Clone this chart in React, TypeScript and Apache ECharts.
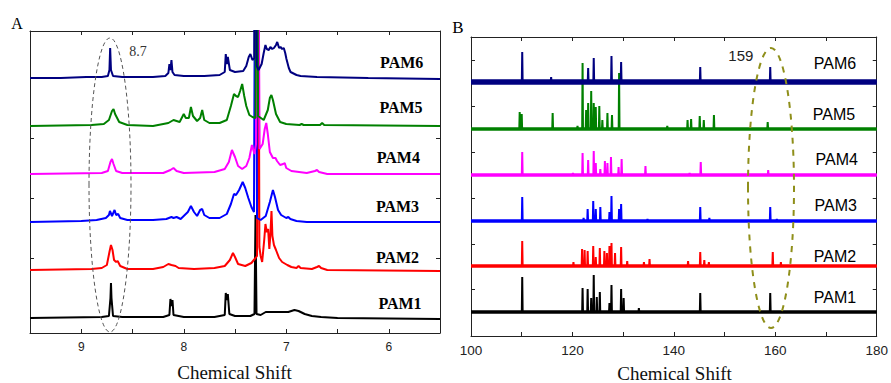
import React, { useEffect, useRef } from 'react';
import * as echarts from 'echarts';

// ---------- shared ----------
const names = ['PAM1', 'PAM2', 'PAM3', 'PAM4', 'PAM5', 'PAM6'];
const colors = ['#000000', '#ff0000', '#0000ff', '#ff00ff', '#008000', '#000080'];

// ---------- panel A : 1H NMR (ppm, intensity a.u.) ----------
const offsetsA = [15, 63, 111, 159, 207, 255];
const yTicksA = [15, 75, 135, 195, 255];
const xTickLabelsA = [9, 8, 7, 6];

const hPAM1: [number, number][] = [
  [9.5, 0], [8.8, 1], [8.73, 2], [8.715, 20], [8.71, 35], [8.705, 20], [8.69, 2], [8.6, 1], [8.2, 1],
  [8.14, 3], [8.13, 19], [8.12, 12], [8.11, 18], [8.1, 3], [8.0, 1], [7.7, 1], [7.6, 3], [7.59, 25],
  [7.58, 18], [7.57, 24], [7.555, 4], [7.5, 2], [7.35, 2], [7.31, 4], [7.30, 103], [7.29, 4], [7.25, 3],
  [7.2, 6], [7.17, 6], [7.1, 6], [7.05, 6], [6.98, 6], [6.92, 8], [6.88, 7], [6.82, 4], [6.75, 2],
  [6.66, 1], [6.5, 0], [5.5, -1],
];
const hPAM2: [number, number][] = [
  [9.5, 0], [8.9, 1], [8.8, 2], [8.75, 5], [8.725, 18], [8.71, 25], [8.695, 20], [8.68, 10], [8.66, 8],
  [8.645, 9], [8.62, 4], [8.55, 1], [8.3, 1], [8.2, 3], [8.15, 6], [8.12, 5], [8.08, 4], [8.05, 2],
  [7.9, 1], [7.7, 2], [7.6, 4], [7.55, 10], [7.52, 17], [7.5, 13], [7.47, 6], [7.4, 4], [7.34, 7],
  [7.3, 12], [7.285, 14], [7.272, 400], [7.262, 23], [7.25, 14], [7.235, 8], [7.215, 30], [7.203, 46],
  [7.19, 38], [7.177, 41], [7.165, 21], [7.155, 35], [7.144, 59], [7.135, 34], [7.12, 25], [7.1, 20],
  [7.07, 12], [7.04, 8], [6.99, 5], [6.95, 3], [6.9, 2], [6.88, 4], [6.86, 2], [6.75, 1], [6.7, 3],
  [6.68, 4], [6.66, 2], [6.6, 0], [5.5, -1],
];
const hPAM3: [number, number][] = [
  [9.5, 0], [9.0, 1], [8.85, 2], [8.76, 4], [8.73, 7], [8.72, 11], [8.70, 6], [8.675, 12], [8.66, 7],
  [8.64, 8], [8.62, 4], [8.55, 2], [8.3, 2], [8.17, 3], [8.12, 5], [8.1, 4], [8.07, 5], [8.03, 3],
  [8.0, 6], [7.96, 10], [7.93, 16], [7.9, 10], [7.87, 6], [7.84, 12], [7.82, 13], [7.8, 7], [7.75, 4],
  [7.65, 4], [7.58, 8], [7.54, 18], [7.51, 28], [7.49, 27], [7.46, 32], [7.425, 40], [7.4, 34],
  [7.37, 24], [7.34, 15], [7.315, 10], [7.30, 400], [7.285, 4], [7.25, 2], [7.2, 6], [7.16, 20],
  [7.13, 32], [7.11, 25], [7.08, 12], [7.05, 7], [7.0, 4], [6.98, 5], [6.96, 3], [6.9, 1], [6.8, 0],
  [5.5, 0],
];
const hPAM4: [number, number][] = [
  [9.5, 0], [8.8, 1], [8.74, 3], [8.715, 12], [8.70, 15], [8.685, 10], [8.66, 3], [8.6, 1], [8.2, 1],
  [8.13, 4], [8.1, 6], [8.07, 3], [8.0, 1], [7.7, 2], [7.6, 5], [7.56, 12], [7.53, 24], [7.5, 17],
  [7.47, 8], [7.43, 5], [7.39, 8], [7.36, 16], [7.335, 29], [7.31, 20], [7.295, 30], [7.28, 400],
  [7.26, 25], [7.23, 30], [7.21, 45], [7.195, 51], [7.18, 40], [7.16, 22], [7.13, 16], [7.105, 16],
  [7.09, 13], [7.06, 9], [7.03, 10], [7.015, 11], [7.0, 6], [6.95, 3], [6.8, 1], [6.72, 3], [6.70, 4],
  [6.68, 2], [6.6, 0], [5.5, 0],
];
const hPAM5: [number, number][] = [
  [9.5, 0], [8.9, 1], [8.78, 2], [8.73, 6], [8.70, 15], [8.685, 17], [8.67, 12], [8.63, 4], [8.55, 1],
  [8.3, 0], [8.15, 3], [8.1, 6], [8.07, 5], [8.04, 4], [8.0, 12], [7.98, 8], [7.95, 8], [7.93, 19],
  [7.91, 10], [7.87, 5], [7.84, 8], [7.82, 16], [7.8, 6], [7.75, 3], [7.65, 3], [7.58, 6], [7.54, 20],
  [7.51, 32], [7.49, 30], [7.47, 29], [7.45, 35], [7.43, 42], [7.41, 30], [7.39, 20], [7.36, 11],
  [7.33, 9], [7.30, 8], [7.287, 400], [7.275, 10], [7.22, 6], [7.18, 16], [7.16, 28], [7.145, 31],
  [7.13, 26], [7.1, 12], [7.06, 4], [7.0, 2], [6.87, 1], [6.85, 2], [6.83, 1], [6.67, 1], [6.65, 3],
  [6.63, 1], [5.5, 0],
];
const hPAM6: [number, number][] = [
  [9.5, 0], [9.2, 0], [8.95, 1], [8.8, 1], [8.74, 2], [8.725, 8], [8.718, 30], [8.71, 8], [8.69, 2],
  [8.6, 1], [8.3, 1], [8.18, 2], [8.15, 5], [8.14, 14], [8.13, 8], [8.12, 18], [8.11, 6], [8.09, 3],
  [8.0, 2], [7.8, 2], [7.65, 3], [7.6, 6], [7.59, 24], [7.58, 14], [7.57, 21], [7.55, 8], [7.5, 6],
  [7.42, 7], [7.39, 12], [7.366, 21], [7.35, 24], [7.33, 18], [7.312, 20], [7.30, 400], [7.288, 12],
  [7.27, 8], [7.24, 14], [7.22, 25], [7.203, 33], [7.19, 29], [7.17, 28], [7.155, 31], [7.137, 29],
  [7.12, 30], [7.1, 33], [7.088, 36], [7.07, 30], [7.056, 31], [7.04, 29], [7.024, 30], [7.01, 25],
  [6.998, 19], [6.975, 10], [6.958, 6], [6.9, 3], [6.86, 2], [6.7, 1], [6.2, 0], [5.5, -1],
];

// ---------- panel B : 13C NMR peak lists (ppm, height a.u.) ----------
const offsetsB = [24, 70, 115, 161, 207, 254];
const yTicksB = [47, 92, 138, 184, 230, 276];

const cPAM1: [number, number][] = [
  [110.1, 35], [122.0, 24], [123.0, 23], [123.7, 14], [124.2, 37], [124.8, 15], [125.4, 20],
  [127.3, 9], [127.7, 27], [129.6, 23], [130.1, 14], [133.1, 4], [145.2, 19], [159.0, 19],
];
const cPAM2: [number, number][] = [
  [110.1, 25], [120.2, 4], [121.9, 17], [122.4, 16], [123.0, 15], [124.1, 20], [124.6, 9],
  [125.4, 18], [126.3, 15], [126.8, 13], [127.3, 20], [127.7, 23], [128.4, 13], [129.6, 19],
  [130.8, 5], [134.1, 4], [135.2, 7], [142.8, 5], [145.2, 14], [146.0, 6], [146.9, 4], [159.5, 14],
  [161.1, 4],
];
const cPAM3: [number, number][] = [
  [110.1, 24], [122.2, 3], [123.0, 12], [124.1, 20], [124.6, 12], [125.5, 14], [127.3, 9],
  [127.7, 25], [129.2, 12], [129.6, 17], [134.8, 2], [145.2, 14], [147.0, 3], [159.0, 14], [160.3, 2],
];
const cPAM4: [number, number][] = [
  [110.1, 23], [120.1, 2], [122.0, 22], [123.1, 15], [124.2, 24], [124.6, 12], [125.5, 6],
  [126.4, 14], [126.9, 12], [127.6, 18], [129.1, 8], [129.7, 16], [134.4, 9], [143.1, 2],
  [145.3, 13], [158.6, 5],
];
const cPAM5: [number, number][] = [
  [109.6, 17], [110.0, 15], [116.1, 16], [121.0, 3], [122.0, 66], [122.7, 19], [123.1, 26],
  [123.7, 38], [124.2, 26], [124.6, 22], [125.3, 23], [125.9, 9], [126.9, 16], [127.8, 14],
  [129.2, 56], [138.7, 3], [142.7, 9], [143.4, 10], [145.1, 13], [145.9, 9], [147.9, 14], [158.5, 7],
];
const cPAM6: [number, number][] = [
  [110.1, 30], [115.8, 5], [123.1, 14], [124.2, 24], [127.7, 26], [129.6, 20], [145.2, 15], [159.0, 15],
];

const specA = [hPAM1, hPAM2, hPAM3, hPAM4, hPAM5, hPAM6];
const specB = [cPAM1, cPAM2, cPAM3, cPAM4, cPAM5, cPAM6];

function stickLine(peaks: [number, number][], lo: number, hi: number) {
  const pts: [number, number][] = [[lo, 0]];
  [...peaks].sort((a, b) => a[0] - b[0]).forEach(([p, h]) => {
    pts.push([p - 0.08, 0], [p, h], [p + 0.08, 0]);
  });
  pts.push([hi, 0]);
  return pts;
}

const SERIF = '"Liberation Serif", "Times New Roman", serif';
const SANS = '"Liberation Sans", Arial, sans-serif';
const AXIS_COLOR = '#222';

export default function App() {
  const ref = useRef<HTMLDivElement>(null);
  useEffect(() => {
    if (!ref.current) return;
    const chart = echarts.init(ref.current, undefined, { renderer: 'svg' });
    const lineStyleAxis = { color: AXIS_COLOR, width: 1 };
    const xBase = (grid: number, pos: 'bottom' | 'top', min: number, max: number, interval: number, inverse: boolean, labelFn: (v: number) => string, fontSize: number, margin: number) => ({
      type: 'value', gridIndex: grid, position: pos, min, max, interval, inverse,
      axisLine: { show: true, onZero: false, lineStyle: lineStyleAxis },
      axisTick: { show: true, inside: true, length: 4, lineStyle: lineStyleAxis },
      axisLabel: pos === 'bottom'
        ? { show: true, formatter: labelFn, color: '#222', fontFamily: SANS, fontSize, margin }
        : { show: false },
      splitLine: { show: false },
    });
    const yBase = (grid: number, pos: 'left' | 'right', max: number, ticks: number[]) => ({
      type: 'value', gridIndex: grid, position: pos, min: 0, max,
      axisLine: { show: true, onZero: false, lineStyle: lineStyleAxis },
      axisTick: { show: true, inside: true, length: 4, customValues: ticks, lineStyle: lineStyleAxis },
      axisLabel: { show: false },
      splitLine: { show: false },
    });
    const fmtA = (v: number) => (xTickLabelsA.includes(v) ? String(v) : '');
    const fmtB = (v: number) => (v % 20 === 0 ? String(v) : '');

    const seriesA = specA.map((d, i) => ({
      type: 'line', name: names[i] + ' 1H', xAxisIndex: 0, yAxisIndex: 0,
      data: d.map(([x, y]) => [x, y + offsetsA[i]]),
      showSymbol: false, symbol: 'none', clip: true,
      lineStyle: { color: colors[i], width: 2 }, itemStyle: { color: colors[i] },
      z: 2 + i,
    }));
    const seriesBBase = specB.map((_, i) => ({
      type: 'line', name: names[i] + ' 13C base', xAxisIndex: 2, yAxisIndex: 2,
      data: [[100, offsetsB[i]], [180, offsetsB[i]]],
      showSymbol: false, symbol: 'none', clip: true,
      lineStyle: { color: colors[i], width: i === 5 ? 5.5 : 3.6 }, itemStyle: { color: colors[i] },
      z: 2 + i,
    }));
    const seriesB = specB.map((d, i) => ({
      type: 'line', name: names[i] + ' 13C', xAxisIndex: 2, yAxisIndex: 2,
      data: stickLine(d, 100, 180).map(([x, y]) => [x, y + offsetsB[i]]),
      showSymbol: false, symbol: 'none', clip: true,
      lineStyle: { color: colors[i], width: 2 }, itemStyle: { color: colors[i] },
      z: 2 + i,
    }));

    const labelPosA = [[400, 303], [397.5, 257], [397.5, 206], [398.3, 157], [401, 107], [401.7, 62]];
    const labelPosB = [[835, 297], [835, 256], [835.7, 205], [836.7, 159.5], [834, 114], [835, 63.5]];

    const texts: any[] = [];
    names.forEach((n, i) => {
      texts.push({
        type: 'text', x: labelPosA[i][0], y: labelPosA[i][1], z: 100,
        style: { text: n, fill: '#000', font: `bold 16px ${SERIF}`, align: 'center', verticalAlign: 'middle' },
      });
      texts.push({
        type: 'text', x: labelPosB[i][0], y: labelPosB[i][1], z: 100,
        style: { text: n, fill: '#000', font: `16px ${SANS}`, align: 'center', verticalAlign: 'middle' },
      });
    });

    chart.setOption({
      animation: false,
      backgroundColor: '#ffffff',
      grid: [
        { left: 30, top: 31, width: 410, height: 302, containLabel: false },
        { left: 471, top: 37, width: 408, height: 299, containLabel: false },
      ],
      xAxis: [
        xBase(0, 'bottom', 5.5, 9.5, 0.5, true, fmtA, 12, 8),
        xBase(0, 'top', 5.5, 9.5, 0.5, true, fmtA, 12, 8),
        xBase(1, 'bottom', 100, 180, 10, false, fmtB, 13.5, 7),
        xBase(1, 'top', 100, 180, 10, false, fmtB, 13.5, 7),
      ],
      yAxis: [
        yBase(0, 'left', 302, yTicksA),
        yBase(0, 'right', 302, yTicksA),
        yBase(1, 'left', 299, yTicksB),
        yBase(1, 'right', 299, yTicksB),
      ],
      series: [...seriesA, ...seriesBBase, ...seriesB],
      graphic: [
        { type: 'text', x: 17, y: 23, style: { text: 'A', fill: '#000', font: `16px ${SERIF}`, align: 'center', verticalAlign: 'middle' } },
        { type: 'text', x: 458, y: 27.5, style: { text: 'B', fill: '#000', font: `17px ${SERIF}`, align: 'center', verticalAlign: 'middle' } },
        { type: 'text', x: 234.5, y: 372, style: { text: 'Chemical Shift', fill: '#111', font: `19px ${SERIF}`, align: 'center', verticalAlign: 'middle' } },
        { type: 'text', x: 674.5, y: 373, style: { text: 'Chemical Shift', fill: '#111', font: `19px ${SERIF}`, align: 'center', verticalAlign: 'middle' } },
        { type: 'text', x: 129.3, y: 51.5, style: { text: '8.7', fill: '#333', font: `14px ${SERIF}`, align: 'left', verticalAlign: 'middle' } },
        { type: 'text', x: 728.3, y: 55.3, style: { text: '159', fill: '#222', font: `15px ${SANS}`, align: 'left', verticalAlign: 'middle' } },
        { type: 'ellipse', z: 50, shape: { cx: 110, cy: 185, rx: 21, ry: 147 }, style: { fill: 'none', stroke: '#555', lineWidth: 1, lineDash: [4, 3] } },
        { type: 'ellipse', z: 50, shape: { cx: 771, cy: 188, rx: 23, ry: 140 }, style: { fill: 'none', stroke: '#8f8f1a', lineWidth: 2, lineDash: [6, 6] } },
        ...texts,
      ],
    });
    return () => chart.dispose();
  }, []);
  return <div ref={ref} style={{ position: 'fixed', left: 0, top: 0, width: 891, height: 383, background: '#fff' }} />;
}
